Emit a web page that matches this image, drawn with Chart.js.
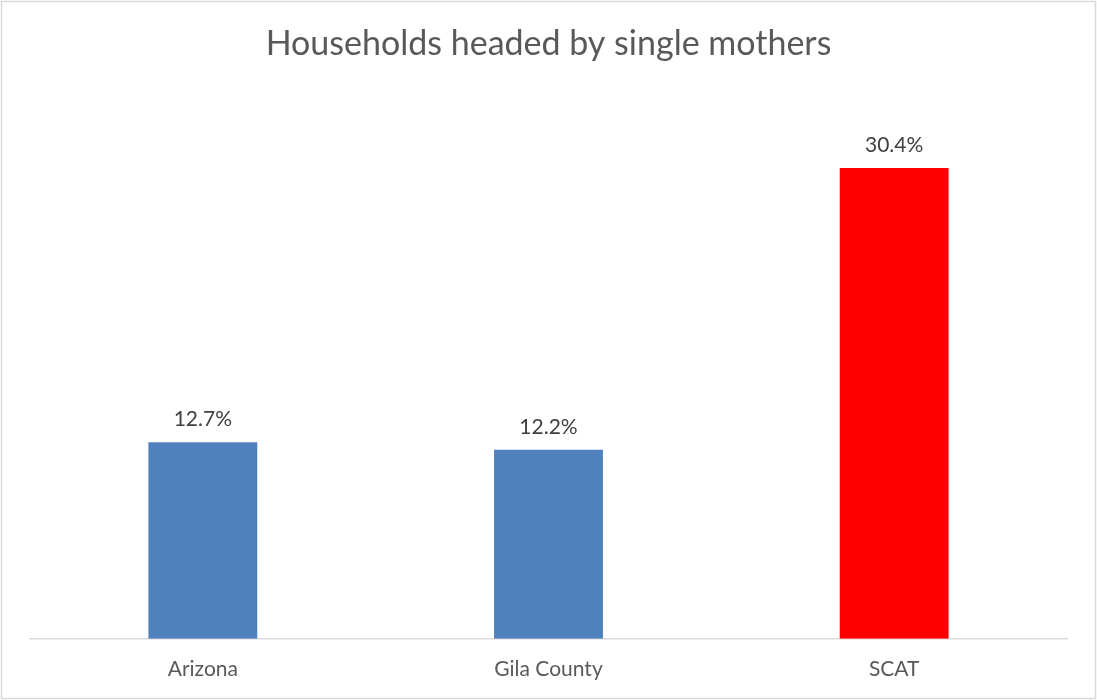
<!DOCTYPE html>
<html>
<head>
<meta charset="utf-8">
<script src="https://cdn.jsdelivr.net/npm/chart.js@4"></script>
<style>
  html, body { margin: 0; padding: 0; background: #fff; }
  #wrap { width: 1097px; height: 700px; position: relative; }
</style>
</head>
<body>
<div id="wrap"><canvas id="myChart"></canvas></div>
<script>
// data
var categories = ["Arizona", "Gila County", "SCAT"];
var shares = [12.7, 12.2, 30.4];
var barColors = ["#4f81bd", "#4f81bd", "#ff0000"];

// labels on top of each bar
var valueLabels = {
  id: "valueLabels",
  afterDatasetsDraw: function (chart) {
    var ctx = chart.ctx;
    var meta = chart.getDatasetMeta(0);
    ctx.save();
    ctx.font = "21px Lato";
    ctx.fillStyle = "#404040";
    ctx.textAlign = "center";
    ctx.textBaseline = "bottom";
    meta.data.forEach(function (bar, i) {
      ctx.fillText(shares[i].toFixed(1) + "%", bar.x, bar.y - 12);
    });
    ctx.restore();
  }
};

// white background + thin frame
var frame = {
  id: "frame",
  beforeDraw: function (chart) {
    var ctx = chart.ctx;
    ctx.save();
    ctx.fillStyle = "#fff";
    ctx.fillRect(0, 0, chart.width, chart.height);
    ctx.strokeStyle = "#d9d9d9";
    ctx.lineWidth = 1.5;
    ctx.strokeRect(1.5, 1.5, chart.width - 3, chart.height - 3);
    ctx.restore();
  }
};

var ctx = document.getElementById("myChart");
var chart = new Chart(ctx, {
  type: "bar",
  data: {
    labels: categories,
    datasets: [{
      data: shares,
      backgroundColor: barColors,
      barPercentage: 0.315,
      categoryPercentage: 1
    }]
  },
  options: {
    responsive: true,
    maintainAspectRatio: false,
    animation: false,
    layout: { padding: { left: 30, right: 30, top: 0, bottom: 0 } },
    plugins: {
      legend: { display: false },
      tooltip: { enabled: false },
      title: {
        display: true,
        text: "Households headed by single mothers",
        color: "#595959",
        font: { family: "Lato", size: 34, weight: "normal" },
        padding: { top: 24, bottom: 32 }
      }
    },
    scales: {
      x: {
        grid: { display: false, drawTicks: false },
        border: { display: true, color: "#d9d9d9", width: 1.5 },
        ticks: { color: "#595959", font: { family: "Lato", size: 21 }, padding: 18 }
      },
      y: {
        display: false,
        min: 0,
        max: 35
      }
    }
  },
  plugins: [frame, valueLabels]
});
</script>
</body>
</html>
